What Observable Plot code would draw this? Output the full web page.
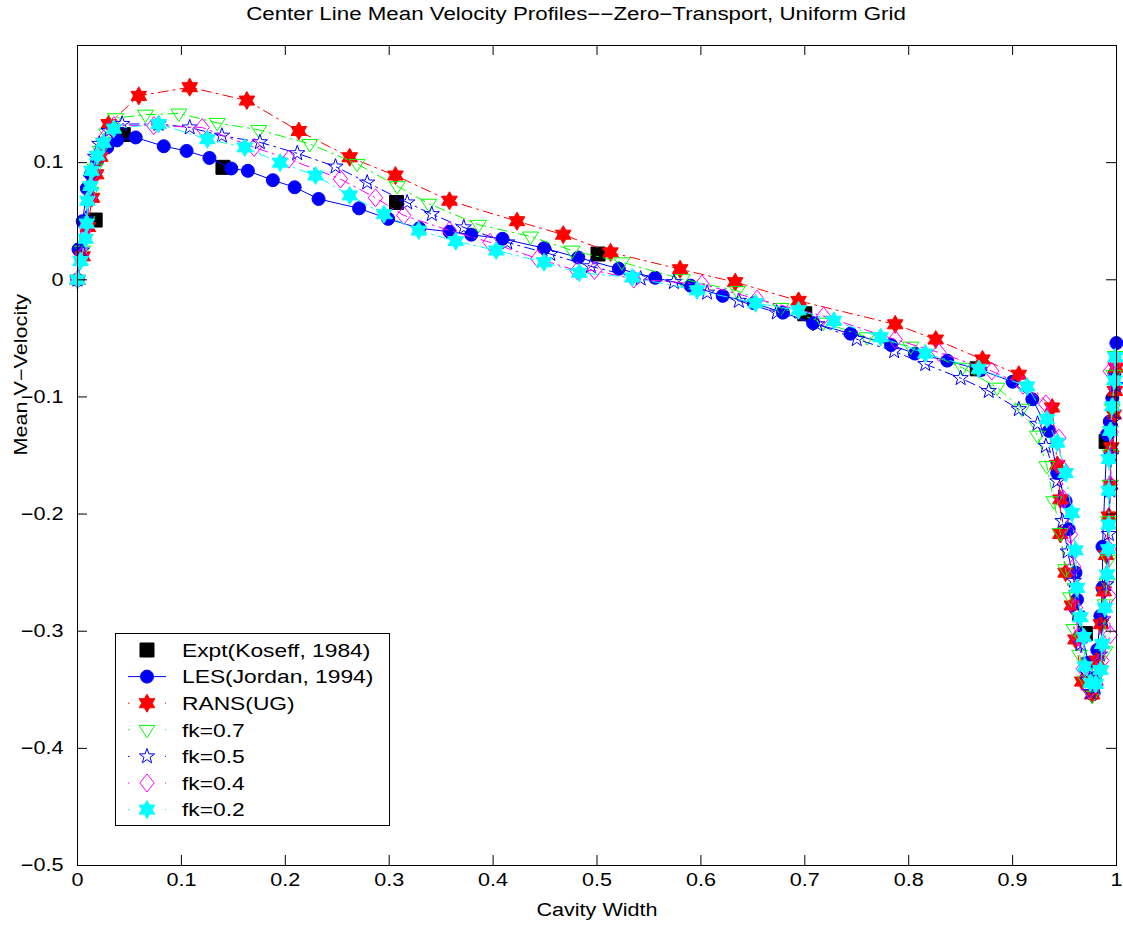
<!DOCTYPE html>
<html><head><meta charset="utf-8">
<script src="https://cdn.jsdelivr.net/npm/d3@7"></script>
<script src="https://cdn.jsdelivr.net/npm/@observablehq/plot@0.6"></script>
<style>
body{margin:0;background:#fff;font-family:"Liberation Sans",Arial,Helvetica,sans-serif;}
#wrap{position:relative;width:1123px;height:926px;background:#fff;overflow:hidden;}
#titlebar{height:26px;position:relative;}
#title{position:absolute;left:0;top:0;width:1152px;height:26px;line-height:28px;text-align:center;font-size:18px;color:#000;white-space:nowrap;}
#title span{display:inline-block;transform:scaleX(1.24);transform-origin:center;}
#legend{position:absolute;left:115px;top:633px;}
</style></head>
<body><div id="wrap">
<div id="titlebar"><div id="title"><span>Center Line Mean Velocity Profiles−−Zero−Transport, Uniform Grid</span></div></div>
<div id="chart"></div>
<svg id="legend" width="276" height="194"></svg>
</div>
<script>
// ---------- data (x = cavity width, y = mean V-velocity) ----------
const xTicks = [0,0.1,0.2,0.3,0.4,0.5,0.6,0.7,0.8,0.9,1];
const yTicks = [-0.5,-0.4,-0.3,-0.2,-0.1,0,0.1];

const expt = [[0.017,0.051],[0.044,0.124],[0.140,0.096],[0.307,0.066],[0.501,0.022],[0.700,-0.029],[0.866,-0.076],[0.970,-0.302],[0.990,-0.138]];

const les = [[0,0],[0.001,0.026],[0.005,0.050],[0.009,0.078],[0.013,0.090],[0.019,0.102],[0.0286,0.113],[0.038,0.119],[0.056,0.1215],[0.083,0.114],[0.105,0.110],[0.127,0.104],[0.148,0.095],[0.164,0.093],[0.188,0.085],[0.209,0.079],[0.232,0.069],[0.271,0.061],[0.299,0.052],[0.329,0.044],[0.358,0.041],[0.379,0.0385],[0.409,0.035],[0.449,0.027],[0.482,0.019],[0.521,0.0094],[0.556,0.0017],[0.590,-0.005],[0.621,-0.0137],[0.651,-0.020],[0.679,-0.028],[0.708,-0.037],[0.744,-0.046],[0.783,-0.0556],[0.806,-0.063],[0.837,-0.069],[0.869,-0.077],[0.900,-0.087],[0.919,-0.102],[0.935,-0.129],[0.943,-0.165],[0.951,-0.189],[0.954,-0.213],[0.9605,-0.250],[0.962,-0.273],[0.967,-0.304],[0.973,-0.327],[0.977,-0.354],[0.979,-0.340],[0.9815,-0.316],[0.9845,-0.287],[0.9865,-0.263],[0.9865,-0.228],[0.991,-0.132],[0.9935,-0.121],[0.996,-0.101],[0.998,-0.080],[0.9999,-0.054]];

const rans = [[0,0],[0.005,0.020],[0.010,0.045],[0.014,0.070],[0.018,0.090],[0.022,0.105],[0.025,0.117],[0.030,0.133],[0.059,0.157],[0.108,0.1644],[0.163,0.153],[0.213,0.127],[0.262,0.1046],[0.306,0.089],[0.358,0.0675],[0.423,0.050],[0.4675,0.0385],[0.513,0.0234],[0.580,0.009],[0.633,-0.002],[0.694,-0.018],[0.787,-0.038],[0.826,-0.051],[0.871,-0.068],[0.906,-0.081],[0.938,-0.109],[0.943,-0.158],[0.946,-0.1875],[0.946,-0.217],[0.951,-0.250],[0.957,-0.278],[0.9605,-0.307],[0.967,-0.343],[0.9766,-0.354],[0.981,-0.325],[0.985,-0.294],[0.9878,-0.266],[0.990,-0.235],[0.9926,-0.202],[0.994,-0.175],[0.995,-0.143],[0.9974,-0.115],[0.9985,-0.095],[0.9995,-0.075]];

const fk07 = [[0,0],[0.005,0.025],[0.009,0.050],[0.013,0.075],[0.017,0.095],[0.022,0.110],[0.028,0.125],[0.0366,0.138],[0.0654,0.141],[0.0975,0.142],[0.1345,0.134],[0.1745,0.128],[0.2236,0.116],[0.269,0.099],[0.3077,0.080],[0.338,0.065],[0.386,0.047],[0.436,0.037],[0.476,0.025],[0.524,0.015],[0.582,0.0006],[0.635,-0.0094],[0.677,-0.024],[0.718,-0.0365],[0.760,-0.049],[0.802,-0.057],[0.8515,-0.075],[0.885,-0.092],[0.909,-0.110],[0.924,-0.133],[0.933,-0.159],[0.9397,-0.189],[0.946,-0.216],[0.951,-0.247],[0.9557,-0.271],[0.959,-0.298],[0.9645,-0.320],[0.970,-0.342],[0.9766,-0.355],[0.9846,-0.334],[0.989,-0.317],[0.989,-0.277],[0.991,-0.259],[0.9926,-0.239],[0.9926,-0.206],[0.994,-0.175],[0.994,-0.149],[0.996,-0.110],[0.9974,-0.081],[0.999,-0.065]];

const fk05 = [[0,0],[0.004,0.025],[0.008,0.052],[0.011,0.076],[0.0125,0.087],[0.017,0.105],[0.021,0.116],[0.030,0.127],[0.043,0.133],[0.078,0.133],[0.108,0.130],[0.139,0.123],[0.1755,0.1174],[0.2115,0.108],[0.2483,0.0966],[0.2788,0.083],[0.3173,0.066],[0.341,0.056],[0.3718,0.0447],[0.4136,0.0319],[0.455,0.022],[0.494,0.0115],[0.542,0.001],[0.574,-0.002],[0.606,-0.011],[0.6365,-0.018],[0.673,-0.028],[0.712,-0.038],[0.750,-0.0507],[0.786,-0.061],[0.816,-0.072],[0.850,-0.084],[0.877,-0.095],[0.906,-0.1105],[0.924,-0.123],[0.932,-0.142],[0.943,-0.172],[0.948,-0.206],[0.953,-0.232],[0.959,-0.257],[0.962,-0.285],[0.9653,-0.311],[0.970,-0.335],[0.975,-0.352],[0.980,-0.348],[0.984,-0.320],[0.987,-0.290],[0.990,-0.260],[0.9926,-0.217],[0.994,-0.180],[0.995,-0.150],[0.997,-0.120],[0.999,-0.090]];

const fk04 = [[0,0],[0.004,0.020],[0.008,0.045],[0.012,0.070],[0.016,0.092],[0.021,0.108],[0.027,0.122],[0.035,0.1316],[0.0734,0.1316],[0.120,0.130],[0.170,0.113],[0.2034,0.103],[0.2531,0.086],[0.2868,0.070],[0.314,0.055],[0.358,0.042],[0.397,0.032],[0.443,0.018],[0.481,0.0077],[0.4976,0.008],[0.5354,0.0006],[0.601,-0.0037],[0.654,-0.0165],[0.718,-0.031],[0.787,-0.051],[0.829,-0.062],[0.880,-0.078],[0.910,-0.090],[0.932,-0.106],[0.9445,-0.135],[0.947,-0.160],[0.949,-0.1875],[0.9557,-0.2175],[0.959,-0.245],[0.9605,-0.280],[0.963,-0.305],[0.968,-0.332],[0.974,-0.350],[0.980,-0.345],[0.986,-0.325],[0.994,-0.303],[0.993,-0.270],[0.9926,-0.230],[0.994,-0.175],[0.995,-0.130],[0.994,-0.078],[0.9985,-0.070]];

const fk02 = [[0,0],[0.003,0.016],[0.0077,0.035],[0.009,0.048],[0.0095,0.0675],[0.0125,0.080],[0.0135,0.093],[0.019,0.106],[0.025,0.117],[0.035,0.129],[0.078,0.133],[0.125,0.120],[0.161,0.113],[0.195,0.100],[0.229,0.089],[0.262,0.072],[0.295,0.056],[0.3285,0.042],[0.364,0.033],[0.403,0.025],[0.449,0.015],[0.483,0.006],[0.534,0.002],[0.5964,-0.009],[0.6526,-0.020],[0.694,-0.026],[0.728,-0.035],[0.773,-0.049],[0.816,-0.063],[0.8675,-0.076],[0.914,-0.091],[0.933,-0.119],[0.943,-0.139],[0.951,-0.165],[0.957,-0.199],[0.9605,-0.231],[0.962,-0.263],[0.9653,-0.288],[0.9686,-0.305],[0.9695,-0.330],[0.975,-0.344],[0.980,-0.345],[0.9846,-0.333],[0.9862,-0.311],[0.989,-0.280],[0.991,-0.2515],[0.992,-0.230],[0.9926,-0.209],[0.9926,-0.180],[0.9926,-0.153],[0.994,-0.129],[0.996,-0.108],[0.998,-0.086],[0.999,-0.066]];

const seriesNames = ["Expt(Koseff, 1984)","LES(Jordan, 1994)","RANS(UG)","fk=0.7","fk=0.5","fk=0.4","fk=0.2"];

// ---------- symbols ----------
function poly(fn){return {draw(ctx,size){const r=Math.sqrt(size/Math.PI);const p=fn(r);ctx.moveTo(p[0][0],p[0][1]);for(let i=1;i<p.length;i++)ctx.lineTo(p[i][0],p[i][1]);ctx.closePath();}};}
function starPts(n,inner){return r=>{const p=[];for(let i=0;i<2*n;i++){const a=Math.PI/n*i-Math.PI/2;const rr=i%2?r*inner:r;p.push([rr*Math.cos(a),rr*Math.sin(a)]);}return p;};}
const symHexagram = poly(starPts(6,0.58));
const symPentagram = poly(starPts(5,0.40));
const symTriDown = poly(r=>[[-r,-0.55*r],[r,-0.55*r],[0,r]]);
const symDiamond = poly(r=>[[0,-r],[0.8*r,0],[0,r],[-0.8*r,0]]);
const symSquare = poly(r=>[[-r,-r],[r,-r],[r,r],[-r,r]]);
const symCircle = {draw(ctx,size){const r=Math.sqrt(size/Math.PI);ctx.moveTo(r,0);ctx.arc(0,0,r,0,2*Math.PI);}};

const dashDot = "10,5,2,5";
const styles = [
  {data: expt, color:"#000000", sym: symSquare, r:7, fill:true, line:false},
  {data: les, color:"#0000ff", sym: symCircle, r:6.5, fill:true, line:true, dash:null},
  {data: rans, color:"#ff0000", sym: symHexagram, r:9, fill:true, line:true, dash:dashDot},
  {data: fk07, color:"#00ff00", sym: symTriDown, r:8, fill:false, line:true, dash:dashDot},
  {data: fk05, color:"#0000ff", sym: symPentagram, r:8, fill:false, line:true, dash:dashDot},
  {data: fk04, color:"#ff00ff", sym: symDiamond, r:9, fill:false, line:true, dash:dashDot},
  {data: fk02, color:"#00ffff", sym: symHexagram, r:9, fill:true, line:true, dash:dashDot}
];

const W=1123, H=900, mT=19, mB=61, mL=77, mR=7;
const frameH = H-mT-mB, frameW = W-mL-mR;
const tickLen = 10;

const marks = [];
for (const s of styles) {
  if (s.line) marks.push(Plot.line(s.data,{x:d=>d[0],y:d=>d[1],stroke:s.color,strokeWidth:1,strokeDasharray:s.dash||undefined}));
  marks.push(Plot.dot(s.data,{x:d=>d[0],y:d=>d[1],symbol:s.sym,r:s.r,fill:s.fill?s.color:"none",stroke:s.color,strokeWidth:1}));
}
const innerX = xTicks.slice(1,-1), innerY = yTicks.slice(1);
marks.push(
  Plot.ruleX(innerX,{x:d=>d,insetTop:frameH-tickLen,stroke:"black",strokeWidth:1}),
  Plot.ruleX(innerX,{x:d=>d,insetBottom:frameH-tickLen,stroke:"black",strokeWidth:1}),
  Plot.ruleY(innerY,{y:d=>d,insetRight:frameW-tickLen,stroke:"black",strokeWidth:1}),
  Plot.ruleY(innerY,{y:d=>d,insetLeft:frameW-tickLen,stroke:"black",strokeWidth:1}),
  Plot.frame({stroke:"black",strokeWidth:1}),
  Plot.text(["Cavity Width"],{text:d=>d,frameAnchor:"bottom",dy:50,fontSize:18,fill:"black"}),
  Plot.text(["Mean V−Velocity"],{text:d=>d,frameAnchor:"left",rotate:-90,dx:-56,fontSize:18,fill:"black"})
);

const chart = Plot.plot({
  width:W, height:H, marginTop:mT, marginBottom:mB, marginLeft:mL, marginRight:mR,
  style:{fontFamily:'"Liberation Sans", Arial, sans-serif', fontSize:"18px", background:"white", color:"black", overflow:"visible"},
  x:{domain:[0,1], ticks:xTicks, tickSize:0, tickPadding:8, tickFormat:d=> (d===0?"0":d===1?"1":d.toFixed(1)), label:null},
  y:{domain:[-0.5,0.2], ticks:yTicks, tickSize:0, tickPadding:14, tickFormat:d=> (d===0?"0":(d<0?"−":"")+Math.abs(d).toFixed(1)), label:null},
  marks
});
document.getElementById("chart").appendChild(chart);

// ---------- legend ----------
const leg = d3.select("#legend");
leg.append("rect").attr("x",0.5).attr("y",0.5).attr("width",274).attr("height",192).attr("fill","white").attr("stroke","black").attr("stroke-width",1);
styles.forEach((s,i)=>{
  const y = 17 + 26.6*i;
  if (s.line) {
    leg.append("line").attr("x1",13).attr("x2",51).attr("y1",y).attr("y2",y).attr("stroke",s.color).attr("stroke-width",1)
      .attr("stroke-dasharray", s.dash ? "1.5,35.5" : null);
  }
  leg.append("path").attr("transform",`translate(32,${y})`).attr("d",d3.symbol(s.sym, Math.PI*s.r*s.r)())
    .attr("fill", s.fill ? s.color : "none").attr("stroke", s.color).attr("stroke-width",1);
  leg.append("text").attr("x",67).attr("y",y).attr("dy","0.36em").attr("font-size",19)
    .attr("font-family",'"Liberation Sans", Arial, sans-serif').text(seriesNames[i]);
});

// ---------- widen text glyphs to match the reference's horizontally stretched lettering ----------
function stretch(root,k){
  root.querySelectorAll("text").forEach(t=>{
    const L = t.getComputedTextLength();
    if (L>0){ t.setAttribute("textLength", (L*k).toFixed(1)); t.setAttribute("lengthAdjust","spacingAndGlyphs"); }
  });
}
stretch(chart,1.2);
stretch(document.getElementById("legend"),1.2);
</script>
</body></html>
